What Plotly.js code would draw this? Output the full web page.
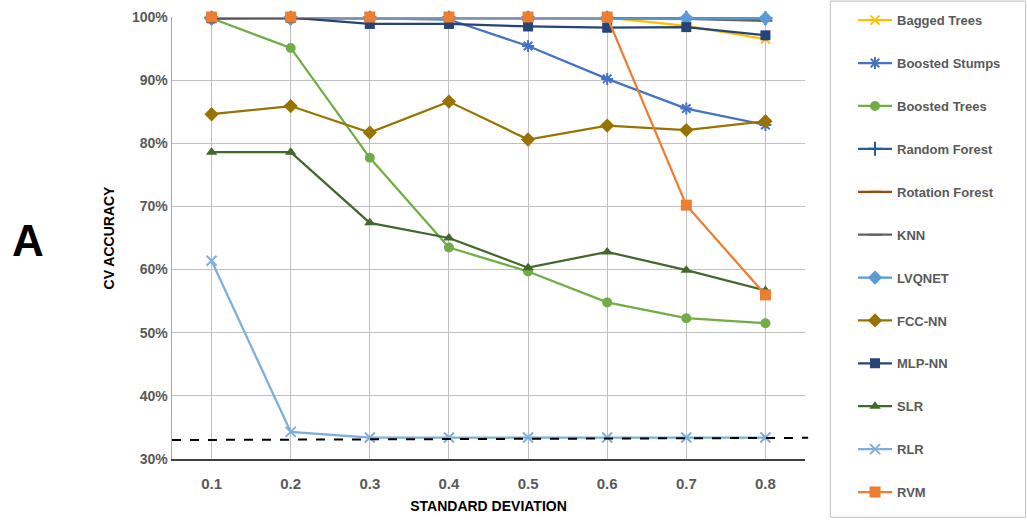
<!DOCTYPE html>
<html>
<head>
<meta charset="utf-8">
<script src="https://cdn.plot.ly/plotly-3.0.1.min.js"></script>
<style>html,body{margin:0;padding:0;background:#fff;}#chart{width:1027px;height:520px;}</style>
</head>
<body>
<div id="chart"></div>
<script>
var categories = ["0.1","0.2","0.3","0.4","0.5","0.6","0.7","0.8"];
var seriesNames = ["Bagged Trees","Boosted Stumps","Boosted Trees","Random Forest","Rotation Forest","KNN","LVQNET","FCC-NN","MLP-NN","SLR","RLR","RVM"];
var baggedTrees    = [99.9, 99.9, 99.9, 99.9, 99.9, 99.9, 98.6, 96.5];
var boostedStumps  = [99.8, 99.9, 99.8, 99.6, 95.4, 90.2, 85.5, 82.9];
var boostedTrees   = [99.8, 95.1, 77.7, 63.5, 59.7, 54.8, 52.3, 51.5];
var randomForest   = [99.9, 99.9, 99.9, 99.9, 99.9, 99.9, 99.9, 99.8];
var rotationForest = [100, 100, 100, 100, 100, 100, 99.8, 99.7];
var knn            = [99.9, 99.9, 99.9, 99.9, 99.9, 99.8, 99.7, 99.4];
var lvqnet         = [99.7, 99.7, 99.7, 99.7, 99.7, 99.7, 99.8, 99.8];
var fccNN          = [84.6, 85.9, 81.7, 86.6, 80.6, 82.8, 82.1, 83.5];
var mlpNN          = [99.8, 99.9, 98.9, 98.9, 98.5, 98.3, 98.4, 97.1];
var slr            = [78.6, 78.6, 67.4, 65.0, 60.3, 62.8, 59.9, 56.7];
var rlr            = [61.4, 34.3, 33.4, 33.4, 33.4, 33.4, 33.4, 33.4];
var rvm            = [100, 100, 100, 100, 100, 100, 70.2, 56.0];
var chanceLineY    = [33.0, 33.35];
var yTickVals  = [30, 40, 50, 60, 70, 80, 90, 100];
var yTickText  = ["30%", "40%", "50%", "60%", "70%", "80%", "90%", "100%"];

var values = [baggedTrees, boostedStumps, boostedTrees, randomForest, rotationForest, knn, lvqnet, fccNN, mlpNN, slr, rlr, rvm];
var styles = [
  {c:"#FFC000", s:"x-thin-open", z:9},
  {c:"#4472C4", s:"asterisk-open", z:10},
  {c:"#70AD47", s:"circle", z:10},
  {c:"#255E91", s:"cross-thin-open", z:10},
  {c:"#9E480E", s:"line-ew-open", z:8},
  {c:"#636363", s:"line-ew-open", z:10},
  {c:"#5B9BD5", s:"diamond", z:11},
  {c:"#997300", s:"diamond", z:11},
  {c:"#264478", s:"square", z:10},
  {c:"#43682B", s:"triangle-up", z:10},
  {c:"#7CAFDD", s:"x-thin-open", z:10},
  {c:"#ED7D31", s:"square", z:11}
];

var traces = seriesNames.map(function(n, i){
  var st = styles[i];
  return {
    type:"scatter", mode:"lines+markers", name:n, x:categories, y:values[i],
    legendgroup:"g"+i, cliponaxis:false,
    line:{color:st.c, width:2.25},
    marker:{symbol:st.s, size:st.z, color:st.c, line:{color:st.c, width:(st.s.indexOf("open")>=0?2:0)}}
  };
});

var font = "'Liberation Sans', Arial, sans-serif";
var layout = {
  width:1027, height:520,
  margin:{l:172, r:222, t:17, b:61, autoexpand:false},
  paper_bgcolor:"#fff", plot_bgcolor:"#fff",
  showlegend:true,
  legend:{xref:"container", yref:"container", x:0.8306, xanchor:"left", y:0.99, yanchor:"top", tracegroupgap:23.0,
          maxheight:1,
          font:{family:font, size:13, color:"#595959", weight:"bold"}, bgcolor:"rgba(0,0,0,0)", itemwidth:34},
  xaxis:{type:"category", range:[-0.5,7.5], showgrid:true, gridcolor:"#BFBFBF", gridwidth:1,
         showline:true, linecolor:"#404040", linewidth:1.5, ticks:"", zeroline:false,
         tickfont:{family:font, size:15, color:"#595959", weight:"bold"}, ticklabelstandoff:10,
         title:{text:"STANDARD DEVIATION", font:{family:font, size:14, color:"#000", weight:"bold"}, standoff:10}},
  yaxis:{range:[30,100], tickmode:"array", tickvals:yTickVals, ticktext:yTickText, showgrid:true, gridcolor:"#BFBFBF", gridwidth:1,
         showline:true, linecolor:"#A6A6A6", linewidth:1.5, ticks:"", zeroline:false,
         tickfont:{family:font, size:14, color:"#595959", weight:"bold"},
         title:{text:"CV ACCURACY", font:{family:font, size:14, color:"#000", weight:"bold"}, standoff:14}},
  shapes:[
    {type:"line", xref:"paper", x0:0, x1:1.005, yref:"y", y0:chanceLineY[0], y1:chanceLineY[1],
     line:{color:"#000", width:2, dash:"dash"}, layer:"above"},
    {type:"rect", xref:"paper", yref:"paper", x0:1.04, x1:1.3485, y0:-0.132, y1:1.036,
     line:{color:"#BFBFBF", width:1}}
  ],
  annotations:[
    {text:"A", xref:"paper", yref:"paper", x:-0.256, y:0.495, showarrow:false,
     font:{family:font, size:44, color:"#000", weight:"bold"}}
  ]
};

Plotly.newPlot("chart", traces, layout, {displayModeBar:false, staticPlot:true});
</script>
</body>
</html>
